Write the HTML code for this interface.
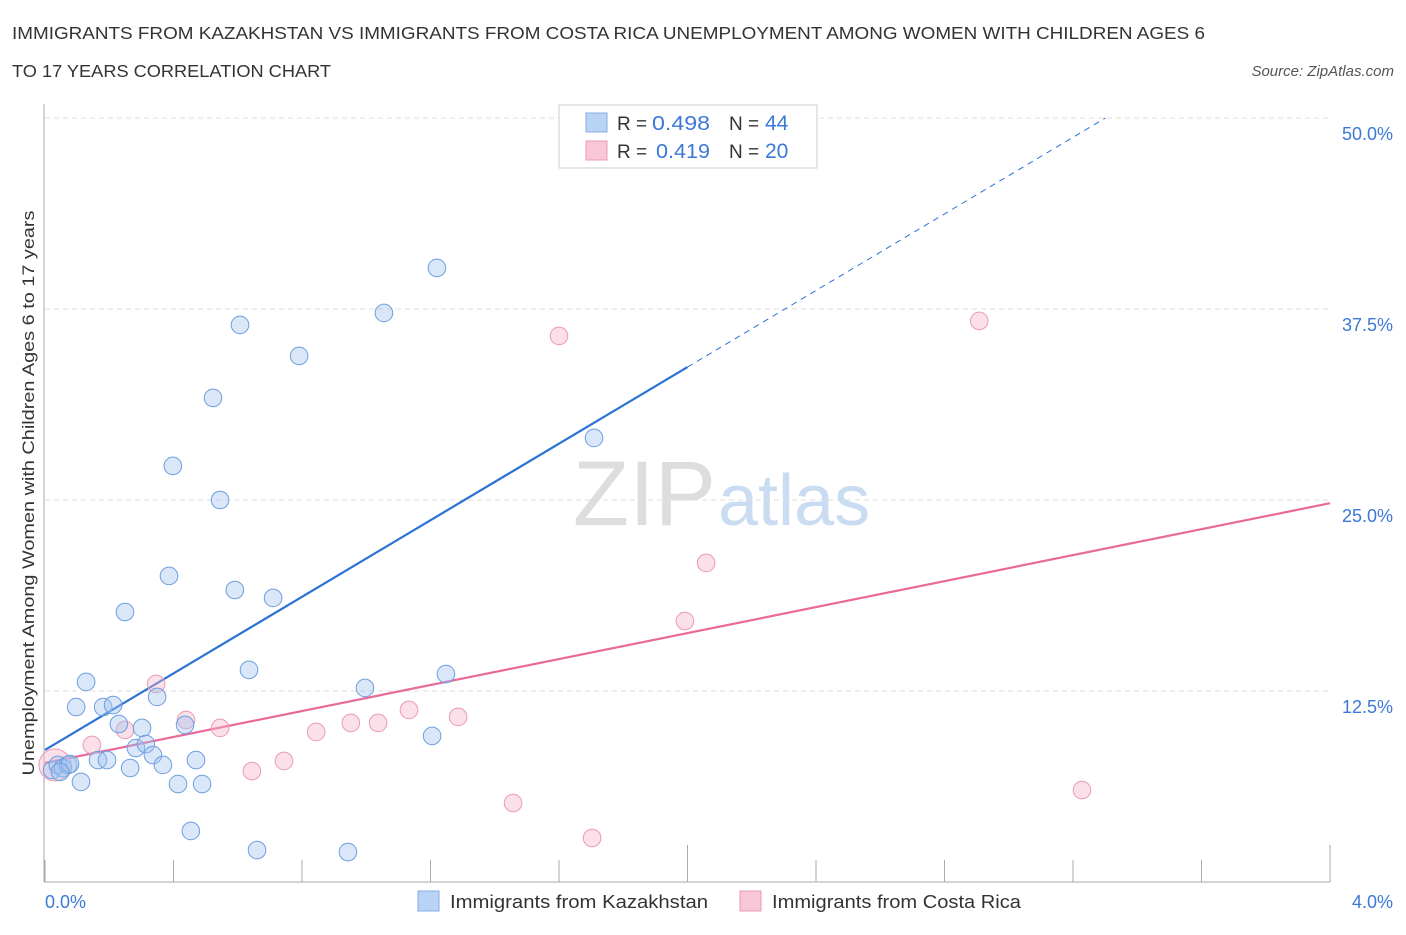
<!DOCTYPE html>
<html><head><meta charset="utf-8"><style>
body{margin:0;background:#fff;font-family:"Liberation Sans",sans-serif;}
svg text{font-family:"Liberation Sans",sans-serif;}
</style></head><body>
<svg id="chart" width="1406" height="930" xmlns="http://www.w3.org/2000/svg">
<text x="12" y="39" font-size="17.5" fill="#333" textLength="1193" lengthAdjust="spacingAndGlyphs">IMMIGRANTS FROM KAZAKHSTAN VS IMMIGRANTS FROM COSTA RICA UNEMPLOYMENT AMONG WOMEN WITH CHILDREN AGES 6</text>
<text x="12" y="77" font-size="17.5" fill="#333" textLength="319" lengthAdjust="spacingAndGlyphs">TO 17 YEARS CORRELATION CHART</text>
<text x="1394" y="76" font-size="15" fill="#555" text-anchor="end" font-style="italic">Source: ZipAtlas.com</text>
<text x="716" y="525" font-size="92" text-anchor="end" fill="#ddd" font-family="Liberation Serif">ZIP</text>
<text x="718" y="525" font-size="72" fill="#c9dcf2">atlas</text>
<g id="grid"></g>
<g id="axes"></g>
<g id="trend"></g>
<g id="pts"></g>
<text transform="translate(34,493) rotate(-90)" font-size="17" fill="#333" text-anchor="middle" textLength="565" lengthAdjust="spacingAndGlyphs">Unemployment Among Women with Children Ages 6 to 17 years</text>
<text x="45" y="908" font-size="18" fill="#3b78d8">0.0%</text>
<text x="1393" y="908" font-size="18" fill="#3b78d8" text-anchor="end">4.0%</text>
<g>
<rect x="559" y="105" width="258" height="63" fill="#fff" stroke="#ccc"/>
<rect x="586" y="113" width="21" height="19" fill="#b9d3f5" stroke="#86aee6"/>
<rect x="586" y="141" width="21" height="19" fill="#f8c6d6" stroke="#eb9ab4"/>
<text x="617" y="130" font-size="19" fill="#333">R = </text>
<text x="652" y="130" font-size="20" fill="#3b78d8" textLength="58" lengthAdjust="spacingAndGlyphs">0.498</text>
<text x="729" y="130" font-size="19" fill="#333">N = </text>
<text x="765" y="130" font-size="21" fill="#3b78d8">44</text>
<text x="617" y="158" font-size="19" fill="#333">R = </text>
<text x="656" y="158" font-size="20" fill="#3b78d8" textLength="54" lengthAdjust="spacingAndGlyphs">0.419</text>
<text x="729" y="158" font-size="19" fill="#333">N = </text>
<text x="765" y="158" font-size="21" fill="#3b78d8">20</text>
</g>
<g>
<rect x="418" y="891" width="21" height="20" fill="#b9d3f5" stroke="#86aee6"/>
<text x="450" y="908" font-size="18" fill="#333" textLength="258" lengthAdjust="spacingAndGlyphs">Immigrants from Kazakhstan</text>
<rect x="740" y="891" width="21" height="20" fill="#f8c6d6" stroke="#eb9ab4"/>
<text x="772" y="908" font-size="18" fill="#333" textLength="249" lengthAdjust="spacingAndGlyphs">Immigrants from Costa Rica</text>
</g>
</svg>
<script>
const blueX=[0.022,0.040,0.056,0.072,0.078,0.047,0.112,0.128,0.097,0.165,0.181,0.193,0.212,0.230,0.249,0.265,0.283,0.302,0.314,0.336,0.349,0.367,0.386,0.398,0.414,0.436,0.454,0.470,0.489,0.523,0.545,0.591,0.607,0.635,0.660,0.710,0.791,0.943,0.996,1.055,1.205,1.220,1.248,1.709];
const blueY=[7.33,7.66,7.46,7.66,7.72,7.20,6.55,13.09,11.45,7.98,11.45,7.98,11.58,10.34,17.67,7.46,8.77,10.08,9.03,8.31,12.11,7.66,20.03,27.23,6.41,10.28,3.34,7.98,6.41,31.68,25.00,19.11,36.46,13.88,2.09,18.59,34.43,1.96,12.70,37.24,9.56,40.19,13.61,29.06];
const pinkX=[0.031,0.146,0.249,0.346,0.439,0.545,0.644,0.744,0.844,0.952,1.037,1.133,1.286,1.457,1.600,1.703,1.992,2.058,2.908,3.228];
const pinkY=[7.66,8.97,9.95,12.96,10.60,10.08,7.26,7.92,9.82,10.41,10.41,11.26,10.80,5.17,35.74,2.88,17.08,20.88,36.72,6.02];
const yTicks=[12.5,25,37.5,50];
const yTickLabels=["12.5%","25.0%","37.5%","50.0%"];
const xTicks=[0,0.4,0.8,1.2,1.6,2.0,2.4,2.8,3.2,3.6,4.0];
const blueTrend=[8.64,12.53];
const pinkTrend=[7.79,4.25];
const NS="http://www.w3.org/2000/svg";
const X=v=>45+v/4*1285, Y=v=>882-v/50*764;
function mk(t,a,p){const e=document.createElementNS(NS,t);for(const k in a)e.setAttribute(k,a[k]);document.getElementById(p).appendChild(e);return e;}
yTicks.forEach((t,i)=>{
 const l=mk('line',{x1:45,x2:1330,y1:Y(t),y2:Y(t),stroke:'#ddd','stroke-dasharray':'5,4'},'grid');
 
 
 const tx=mk('text',{x:1393,y:Y(t)+22,'font-size':18,fill:'#3b78d8','text-anchor':'end'},'grid');
 tx.textContent=yTickLabels[i];
 
 
});
const ax=mk('line',{x1:44,x2:44,y1:104,y2:882,stroke:'#aaa'},'axes');


const bx=mk('line',{x1:44,x2:1330,y1:882,y2:882,stroke:'#aaa'},'axes');


xTicks.forEach(t=>{
 const l=mk('line',{x1:X(t),x2:X(t),y1:882,y2:(t===2||t===4)?845:860,stroke:'#aaa'},'axes');
 
 
});
const bEnd=(50-blueTrend[0])/blueTrend[1];
let t1=mk('line',{x1:X(0),y1:Y(blueTrend[0]),x2:X(2),y2:Y(blueTrend[0]+2*blueTrend[1]),stroke:'#2a72d4','stroke-width':2.2},'trend');


let t2=mk('line',{x1:X(2),y1:Y(blueTrend[0]+2*blueTrend[1]),x2:X(bEnd),y2:Y(50),stroke:'#2a72d4','stroke-width':1,'stroke-dasharray':'6,5'},'trend');


let t3=mk('line',{x1:X(0),y1:Y(pinkTrend[0]),x2:X(4),y2:Y(pinkTrend[0]+4*pinkTrend[1]),stroke:'#e8699a','stroke-width':2.2},'trend');


pinkX.forEach((x,i)=>{
 const c=mk('circle',{cx:X(x),cy:Y(pinkY[i]),r:i===0?16:8.8,fill:'rgba(246,178,200,0.4)',stroke:'#eb9ab4','stroke-width':1},'pts');
 
 
});
blueX.forEach((x,i)=>{
 const c=mk('circle',{cx:X(x),cy:Y(blueY[i]),r:8.8,fill:'rgba(160,195,240,0.4)',stroke:'#6d9fe0','stroke-width':1},'pts');
 
 
});
</script>
</body></html>
